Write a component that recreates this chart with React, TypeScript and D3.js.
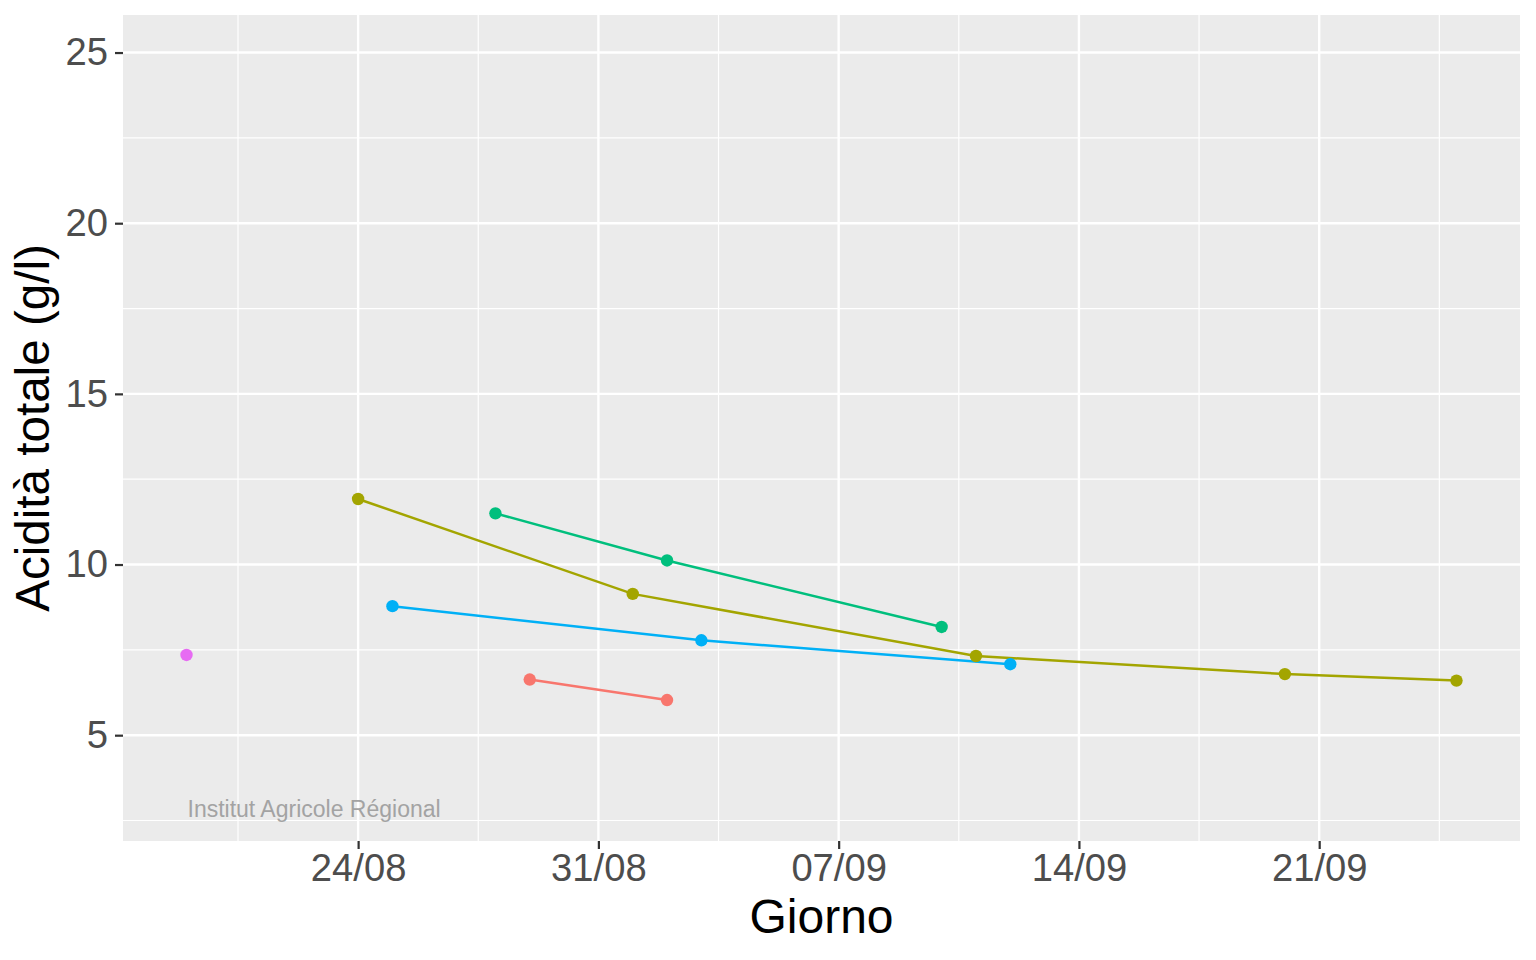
import * as d3 from "d3";
import React, { useEffect, useRef } from "react";

// dates (day/month) and total acidity values (g/l) per series
const seriesNames = ["A", "B", "C", "D", "E"];
const seriesColors = ["#F8766D", "#A3A500", "#00BF7D", "#00B0F6", "#E76BF3"];

const datesA = ["29/08", "02/09"];
const valuesA = [6.63, 6.03];

const datesB = ["24/08", "01/09", "11/09", "20/09", "25/09"];
const valuesB = [11.92, 9.14, 7.32, 6.79, 6.6];

const datesC = ["28/08", "02/09", "10/09"];
const valuesC = [11.5, 10.12, 8.17];

const datesD = ["25/08", "03/09", "12/09"];
const valuesD = [8.78, 7.78, 7.08];

const datesE = ["19/08"];
const valuesE = [7.35];

const xTickLabels = ["24/08", "31/08", "07/09", "14/09", "21/09"];
const yTicks = [5, 10, 15, 20, 25];
const yMinor = [2.5, 7.5, 12.5, 17.5, 22.5];

const YEAR = 2021;
const parse = (s: string) => {
	const [d, m] = s.split("/").map(Number);
	return new Date(YEAR, m - 1, d);
};

const FONT = "'Liberation Sans', Arial, Helvetica, sans-serif";

const App = (): JSX.Element => {
	const svgRef = useRef(null);

	useEffect(() => {
		document.body.style.margin = "0";

		const width = 1536,
			height = 960;
		const margin = { top: 15, right: 16, bottom: 119, left: 123 };
		const pw = width - margin.left - margin.right,
			ph = height - margin.top - margin.bottom;

		const series = [
			{ name: seriesNames[0], dates: datesA, values: valuesA },
			{ name: seriesNames[1], dates: datesB, values: valuesB },
			{ name: seriesNames[2], dates: datesC, values: valuesC },
			{ name: seriesNames[3], dates: datesD, values: valuesD },
			{ name: seriesNames[4], dates: datesE, values: valuesE },
		].map((s, i) => ({
			name: s.name,
			color: seriesColors[i],
			points: s.dates.map((d, j) => ({ date: parse(d), value: s.values[j] })),
		}));

		const allDates = series.flatMap((s) => s.points.map((p) => +p.date));
		const dMin = d3.min(allDates)!,
			dMax = d3.max(allDates)!;
		const pad = (dMax - dMin) * 0.05;

		const x = d3
			.scaleTime()
			.domain([new Date(dMin - pad), new Date(dMax + pad)])
			.range([0, pw]);

		// limits 3..25 with ggplot's 5% expansion
		const yPad = (25 - 3) * 0.05;
		const y = d3
			.scaleLinear()
			.domain([3 - yPad, 25 + yPad])
			.range([ph, 0]);

		const root = d3.select(svgRef.current);
		root.selectAll("*").remove();

		const svg = root
			.append("g")
			.attr("transform", `translate(${margin.left},${margin.top})`);

		// panel
		svg.append("rect").attr("width", pw).attr("height", ph).attr("fill", "#EBEBEB");

		const xTicks = xTickLabels.map(parse);
		const dayMs = 24 * 3600 * 1000;
		const xMinor = [xTicks[0].getTime() - 3.5 * dayMs, ...xTicks.map((t) => t.getTime() + 3.5 * dayMs)].map(
			(t) => new Date(t)
		);

		// minor grid
		svg.append("g")
			.selectAll("line")
			.data(yMinor)
			.join("line")
			.attr("x1", 0)
			.attr("x2", pw)
			.attr("y1", (d) => y(d))
			.attr("y2", (d) => y(d))
			.attr("stroke", "#fff")
			.attr("stroke-width", 1.2);
		svg.append("g")
			.selectAll("line")
			.data(xMinor)
			.join("line")
			.attr("x1", (d) => x(d))
			.attr("x2", (d) => x(d))
			.attr("y1", 0)
			.attr("y2", ph)
			.attr("stroke", "#fff")
			.attr("stroke-width", 1.2);

		// major grid
		svg.append("g")
			.selectAll("line")
			.data(yTicks)
			.join("line")
			.attr("x1", 0)
			.attr("x2", pw)
			.attr("y1", (d) => y(d))
			.attr("y2", (d) => y(d))
			.attr("stroke", "#fff")
			.attr("stroke-width", 2.4);
		svg.append("g")
			.selectAll("line")
			.data(xTicks)
			.join("line")
			.attr("x1", (d) => x(d))
			.attr("x2", (d) => x(d))
			.attr("y1", 0)
			.attr("y2", ph)
			.attr("stroke", "#fff")
			.attr("stroke-width", 2.4);

		// watermark
		svg.append("text")
			.attr("x", x(parse("19/08")) + 1)
			.attr("y", y(2.6))
			.attr("font-family", FONT)
			.attr("font-size", 23)
			.attr("fill", "#A3A3A3")
			.text("Institut Agricole Régional");

		// lines
		const line = d3
			.line<{ date: Date; value: number }>()
			.x((d) => x(d.date))
			.y((d) => y(d.value));

		series
			.filter((s) => s.points.length > 1)
			.forEach((s) => {
				svg.append("path")
					.datum(s.points)
					.attr("d", line)
					.attr("fill", "none")
					.attr("stroke", s.color)
					.attr("stroke-width", 2.5);
			});

		// points
		series.forEach((s) => {
			svg.append("g")
				.selectAll("circle")
				.data(s.points)
				.join("circle")
				.attr("cx", (d) => x(d.date))
				.attr("cy", (d) => y(d.value))
				.attr("r", 6.2)
				.attr("fill", s.color);
		});

		// x axis
		const xAxis = svg
			.append("g")
			.attr("transform", `translate(0,${ph})`)
			.call(
				d3
					.axisBottom(x)
					.tickValues(xTicks)
					.tickFormat(d3.timeFormat("%d/%m") as any)
					.tickSize(8)
					.tickPadding(5)
			);
		xAxis.select(".domain").remove();
		xAxis.selectAll("line").attr("stroke", "#333333").attr("stroke-width", 2.2);
		xAxis.selectAll("text")
			.attr("font-family", FONT)
			.attr("font-size", 38.2)
			.attr("fill", "#4D4D4D");

		// y axis
		const yAxis = svg
			.append("g")
			.call(d3.axisLeft(y).tickValues(yTicks).tickSize(8).tickPadding(7));
		yAxis.select(".domain").remove();
		yAxis.selectAll("line").attr("stroke", "#333333").attr("stroke-width", 2.2);
		yAxis.selectAll("text")
			.attr("font-family", FONT)
			.attr("font-size", 38.2)
			.attr("fill", "#4D4D4D");

		// axis titles
		root.append("text")
			.attr("x", margin.left + pw / 2)
			.attr("y", 933)
			.attr("text-anchor", "middle")
			.attr("font-family", FONT)
			.attr("font-size", 48)
			.attr("fill", "#000")
			.text("Giorno");

		root.append("text")
			.attr("transform", `translate(49,${margin.top + ph / 2}) rotate(-90)`)
			.attr("text-anchor", "middle")
			.attr("font-family", FONT)
			.attr("font-size", 47.6)
			.attr("fill", "#000")
			.text("Acidità totale (g/l)");
	}, []);

	return <svg width={1536} height={960} ref={svgRef} style={{ display: "block" }} />;
};

export default App;
